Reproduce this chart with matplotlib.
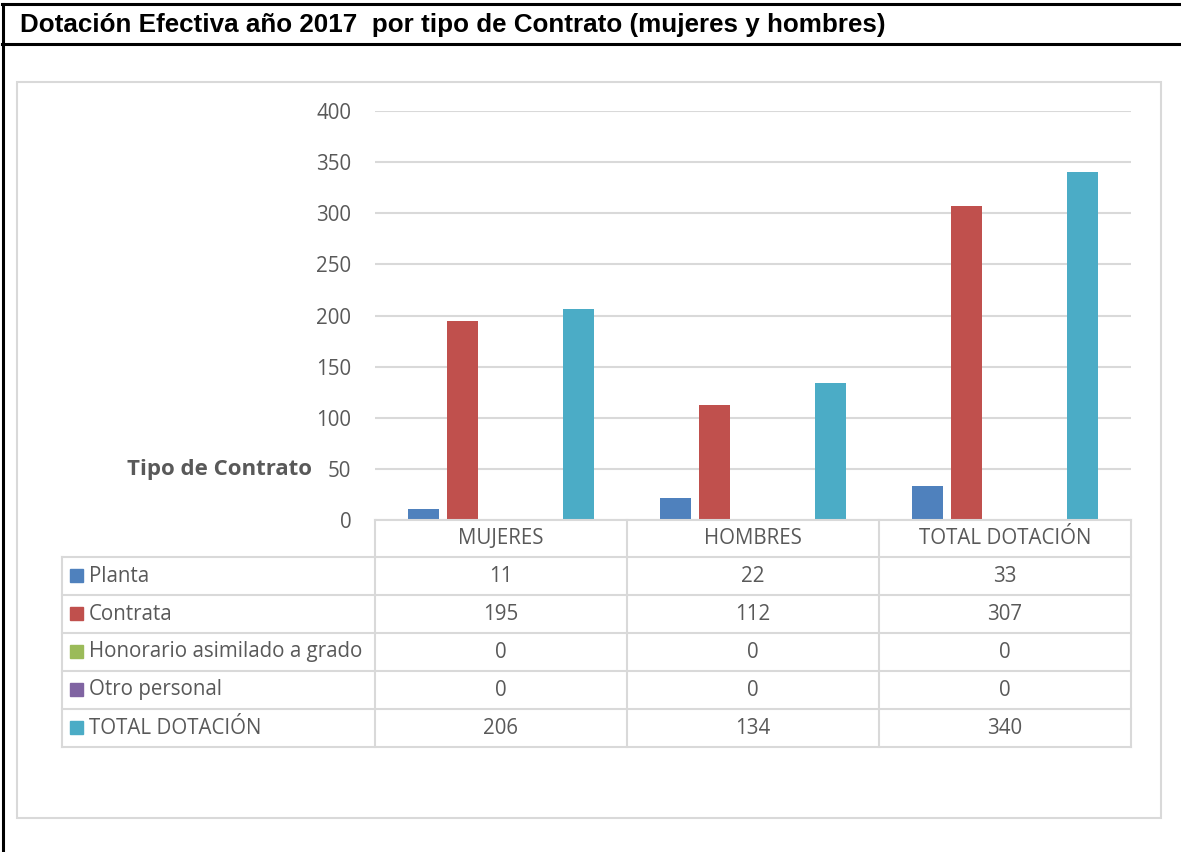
import matplotlib.pyplot as plt
import numpy as np
from matplotlib.patches import Rectangle
from matplotlib.lines import Line2D

# data
categories = ["MUJERES", "HOMBRES", "TOTAL DOTACIÓN"]
series = ["Planta", "Contrata", "Honorario asimilado a grado", "Otro personal", "TOTAL DOTACIÓN"]
planta = [11, 22, 33]
contrata = [195, 112, 307]
honorario = [0, 0, 0]
otro = [0, 0, 0]
total = [206, 134, 340]
colors = ["#4F81BD", "#C0504D", "#9BBB59", "#8064A2", "#4BACC6"]
yticks = [0, 50, 100, 150, 200, 250, 300, 350, 400]

values = [planta, contrata, honorario, otro, total]

W, H = 1181, 852
fig = plt.figure(figsize=(W / 100, H / 100), dpi=100)
txt = "#595959"
grid = "#D9D9D9"
font = ["Open Sans", "DejaVu Sans"]
fs = 14.8


def fx(x):
    return x / W


def fy(y):
    return 1 - y / H


def hline(y, x0, x1, color, lw):
    fig.add_artist(Line2D([fx(x0), fx(x1)], [fy(y), fy(y)], color=color, lw=lw))


def vline(x, y0, y1, color, lw):
    fig.add_artist(Line2D([fx(x), fx(x)], [fy(y0), fy(y1)], color=color, lw=lw))


# outer frame and title bar
hline(4, 2, W, "black", 2.2)
hline(44, 2, W, "black", 2.2)
vline(3, 4, H, "black", 2.2)
fig.text(fx(20), fy(25), "Dotación Efectiva año 2017  por tipo de Contrato (mujeres y hombres)",
         fontsize=18.7, fontweight="bold", family=["Liberation Sans Narrow", "Liberation Sans"],
         va="center", ha="left")

# chart area box
fig.add_artist(Rectangle((fx(17), fy(818)), fx(1161) - fx(17), fy(82) - fy(818),
                         fill=False, edgecolor=grid, lw=1.5))

# bars
left, right, top, bottom = 375, 1131, 111, 520
ax = fig.add_axes([fx(left), fy(bottom), fx(right) - fx(left), fy(top) - fy(bottom)])
x = np.arange(len(categories))
step = 0.154
bw = 0.123
for k, (vals, c) in enumerate(zip(values, colors)):
    ax.bar(x + (k - 2) * step, vals, width=bw, color=c, zorder=3)
ax.set_xlim(-0.5, len(categories) - 0.5)
ax.set_ylim(0, 400)
ax.set_yticks(yticks)
ax.set_yticklabels([str(t) for t in yticks], color=txt, fontsize=fs, family=font)
ax.tick_params(axis="y", length=0, pad=17)
ax.set_xticks([])
ax.grid(axis="y", color=grid, lw=1.5, zorder=0)
for s in ax.spines.values():
    s.set_visible(False)
ax.patch.set_alpha(0)

fig.text(fx(312), fy(469), "Tipo de Contrato", fontsize=16, fontweight="bold", color=txt,
         family=font, ha="right", va="center")

# data table
col_edges = [62, 375, 627, 879, 1131]
row_edges = [520, 557, 595, 633, 671, 709, 747]
hline(row_edges[0], col_edges[1], col_edges[-1], grid, 1.5)
for y in row_edges[1:]:
    hline(y, col_edges[0], col_edges[-1], grid, 1.5)
vline(col_edges[0], row_edges[1], row_edges[-1], grid, 1.5)
for xe in col_edges[1:]:
    vline(xe, row_edges[0], row_edges[-1], grid, 1.5)

for j, cat in enumerate(categories):
    cx = (col_edges[j + 1] + col_edges[j + 2]) / 2
    cy = (row_edges[0] + row_edges[1]) / 2
    fig.text(fx(cx), fy(cy), cat, fontsize=fs, color=txt, family=font, ha="center", va="center")

for i, (name, vals, c) in enumerate(zip(series, values, colors)):
    cy = (row_edges[i + 1] + row_edges[i + 2]) / 2
    fig.add_artist(Rectangle((fx(70), fy(cy + 6)), fx(13), fy(0) - fy(13), color=c))
    fig.text(fx(89), fy(cy), name, fontsize=fs, color=txt, family=font, ha="left", va="center")
    for j, v in enumerate(vals):
        cx = (col_edges[j + 1] + col_edges[j + 2]) / 2
        fig.text(fx(cx), fy(cy), str(v), fontsize=fs, color=txt, family=font,
                 ha="center", va="center")

fig.savefig("out.png", dpi=100)
